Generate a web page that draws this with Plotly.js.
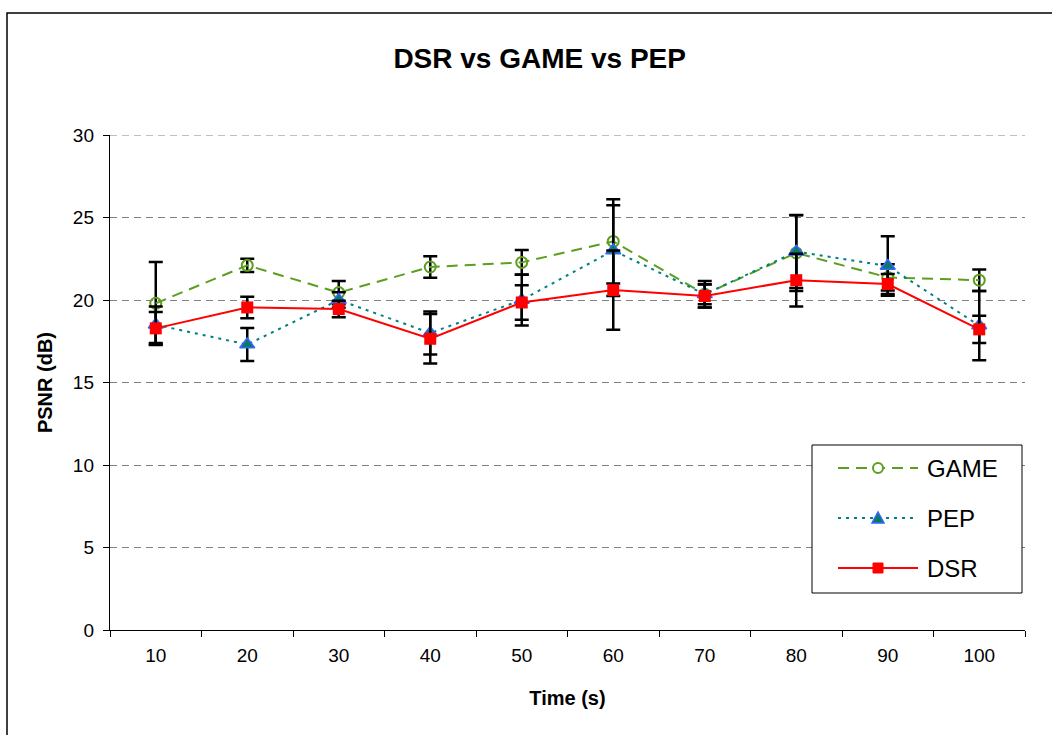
<!DOCTYPE html>
<html>
<head>
<meta charset="utf-8">
<script src="https://cdn.plot.ly/plotly-3.0.1.min.js"></script>
<style>html,body{margin:0;padding:0;background:#fff;}#chart{width:1052px;height:735px;}</style>
</head>
<body>
<div id="chart"></div>
<script>
const time = ["10", "20", "30", "40", "50", "60", "70", "80", "90", "100"];
const game = [19.8, 22.1, 20.45, 22.0, 22.28, 23.55, 20.35, 22.85, 21.37, 21.2];
const gameErr = [2.5, 0.4, 0.7, 0.65, 0.75, 2.55, 0.8, 2.3, 0.8, 0.65];
const pep = [18.5, 17.3, 20.0, 18.0, 20.0, 23.0, 20.35, 22.93, 22.06, 18.45];
const pepErr = [1.1, 1.0, 0.47, 1.3, 1.55, 2.75, 0.6, 2.2, 1.8, 2.1];
const dsr = [18.28, 19.55, 19.45, 17.65, 19.85, 20.6, 20.24, 21.2, 20.97, 18.22];
const dsrErr = [1.0, 0.65, 0.5, 1.5, 1.05, 2.4, 0.7, 1.6, 0.6, 0.82];
const yTicks = [0, 5, 10, 15, 20, 25, 30];
const seriesNames = ["GAME", "PEP", "DSR"];

const FONT = "Liberation Sans, Arial, sans-serif";
const C_GAME = "#5c9e1e", C_PEP = "#008080", C_PEP_FILL = "#0a7a66", C_PEP_EDGE = "#3366ff", C_DSR = "#ff0000";
const errStyle = (arr) => ({type: "data", array: arr, visible: true, color: "#000000", thickness: 2.5, width: 7});

const traces = [
  {x: time, y: game, name: seriesNames[0], type: "scatter", mode: "lines+markers",
   line: {color: C_GAME, width: 2, dash: "11px,7px"},
   marker: {symbol: "circle-open", size: 11, color: C_GAME, line: {width: 2, color: C_GAME}},
   error_y: errStyle(gameErr)},
  {x: time, y: pep, name: seriesNames[1], type: "scatter", mode: "lines+markers",
   line: {color: C_PEP, width: 2, dash: "3px,5px"},
   marker: {symbol: "triangle-up", size: 13, color: C_PEP_FILL, line: {width: 1.5, color: C_PEP_EDGE}},
   error_y: errStyle(pepErr)},
  {x: time, y: dsr, name: seriesNames[2], type: "scatter", mode: "lines+markers",
   line: {color: C_DSR, width: 2},
   marker: {symbol: "square", size: 12, color: C_DSR, line: {width: 0}},
   error_y: errStyle(dsrErr)}
];

const W = 915, H = 495, L = 110, T = 135;
const px = (p) => (p - L) / W;
const py = (p) => (T + H - p) / H;

// custom legend (box, sample lines, markers, labels)
const legRows = [468, 518, 568];
const lx0 = 838, lx1 = 918, mx = 878;
const shapes = [
  {type: "rect", xref: "paper", yref: "paper", x0: px(7), x1: px(1070), y0: py(760), y1: py(13),
   line: {color: "#000", width: 1.5}, fillcolor: "rgba(0,0,0,0)", layer: "below"},
  {type: "line", xref: "paper", yref: "y", x0: 0, x1: 1, y0: yTicks[yTicks.length - 1], y1: yTicks[yTicks.length - 1],
   line: {color: "#808080", width: 1, dash: "7px,5px"}, layer: "below"},
  {type: "rect", xref: "paper", yref: "paper", x0: px(812), x1: px(1022), y0: py(593), y1: py(445),
   line: {color: "#000", width: 1}, fillcolor: "#ffffff", layer: "above"},
  {type: "line", xref: "paper", yref: "paper", x0: px(lx0), x1: px(lx1), y0: py(legRows[0]), y1: py(legRows[0]),
   line: {color: C_GAME, width: 2, dash: "11px,7px"}},
  {type: "line", xref: "paper", yref: "paper", x0: px(lx0), x1: px(lx1 - 3), y0: py(legRows[1]), y1: py(legRows[1]),
   line: {color: C_PEP, width: 2, dash: "3px,5px"}},
  {type: "line", xref: "paper", yref: "paper", x0: px(lx0), x1: px(lx1), y0: py(legRows[2]), y1: py(legRows[2]),
   line: {color: C_DSR, width: 2}},
  {type: "circle", xref: "paper", yref: "paper", x0: px(mx - 5), x1: px(mx + 5), y0: py(legRows[0] + 5), y1: py(legRows[0] - 5),
   line: {color: C_GAME, width: 2}, fillcolor: "#ffffff"},
  {type: "path", xref: "paper", yref: "paper",
   path: `M ${px(mx - 6)} ${py(legRows[1] + 5)} L ${px(mx + 6)} ${py(legRows[1] + 5)} L ${px(mx)} ${py(legRows[1] - 6)} Z`,
   line: {color: C_PEP_EDGE, width: 1.5}, fillcolor: C_PEP_FILL},
  {type: "rect", xref: "paper", yref: "paper", x0: px(mx - 5), x1: px(mx + 5), y0: py(legRows[2] + 5), y1: py(legRows[2] - 5),
   line: {color: C_DSR, width: 1}, fillcolor: C_DSR}
];
const annotations = seriesNames.map((n, i) => ({
  text: n, xref: "paper", yref: "paper", x: px(925), y: py(legRows[i]), xanchor: "left", yanchor: "middle",
  showarrow: false, font: {family: FONT, size: 24, color: "#000"}
}));

const layout = {
  width: 1052, height: 735,
  margin: {l: L, r: 27, t: T, b: 105},
  paper_bgcolor: "#ffffff", plot_bgcolor: "#ffffff",
  font: {family: FONT, color: "#000000", size: 18},
  title: {text: "<b>DSR vs GAME vs PEP</b>", font: {family: FONT, size: 28, color: "#000"},
          x: 0.513, xanchor: "center", y: 1 - 58 / 735, yanchor: "middle"},
  xaxis: {type: "category", categoryorder: "array", categoryarray: time, range: [-0.5, 9.5],
          showline: true, linecolor: "#000", linewidth: 1.2, mirror: false,
          ticks: "outside", tickson: "boundaries", ticklen: 6, tickcolor: "#000", tickwidth: 1,
          showgrid: false, zeroline: false, tickfont: {size: 19}, ticklabelstandoff: 8,
          title: {text: "<b>Time (s)</b>", font: {size: 20}, standoff: 26}},
  yaxis: {range: [0, 30], tickvals: yTicks, ticktext: yTicks.map(String),
          showline: true, linecolor: "#000", linewidth: 1.2,
          ticks: "outside", ticklen: 6, tickcolor: "#000", tickwidth: 1,
          showgrid: true, gridcolor: "#808080", gridwidth: 1, griddash: "7px,5px",
          zeroline: false, tickfont: {size: 19}, ticklabelstandoff: 5,
          title: {text: "<b>PSNR (dB)</b>", font: {size: 20}, standoff: 14}},
  showlegend: false,
  shapes: shapes,
  annotations: annotations
};

Plotly.newPlot("chart", traces, layout, {displayModeBar: false, staticPlot: true});
</script>
</body>
</html>
